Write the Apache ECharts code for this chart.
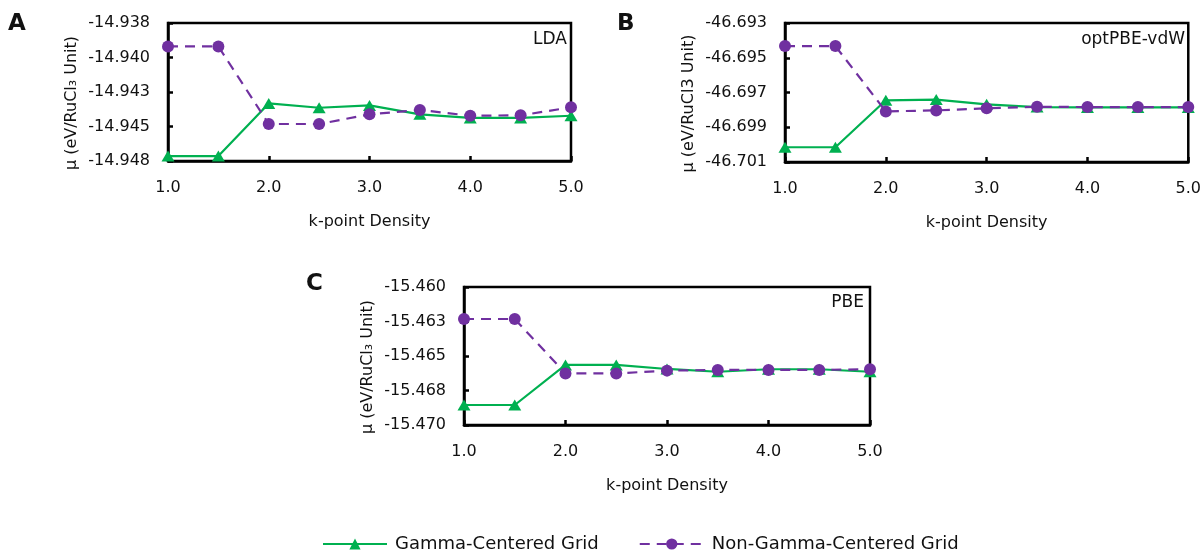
<!DOCTYPE html>
<html>
<head>
<meta charset="utf-8">
<title>Chemical potential vs k-point density</title>
<script src="https://cdn.jsdelivr.net/npm/echarts@6/dist/echarts.min.js"></script>
<style>
  html, body { margin: 0; padding: 0; background: #fff; }
  #chart { width: 1204px; height: 552px; }
</style>
</head>
<body>
<div id="chart"></div>
<script>
// k-point densities sampled in every panel
const kPoints = [1.0, 1.5, 2.0, 2.5, 3.0, 3.5, 4.0, 4.5, 5.0];
const xTickLabels = ['1.0', '2.0', '3.0', '4.0', '5.0'];

// Panel A: LDA
const ldaGamma    = [-14.94764, -14.94764, -14.94383, -14.94414, -14.94397, -14.94462, -14.94488, -14.94488, -14.94472];
const ldaNonGamma = [-14.93970, -14.93970, -14.94532, -14.94532, -14.94462, -14.94430, -14.94472, -14.94469, -14.94411];
const ldaTicks    = ['-14.948', '-14.945', '-14.943', '-14.940', '-14.938'];

// Panel B: optPBE-vdW
const vdwGamma    = [-46.70015, -46.70015, -46.69745, -46.69741, -46.69768, -46.69784, -46.69786, -46.69786, -46.69786];
const vdwNonGamma = [-46.69433, -46.69433, -46.69809, -46.69803, -46.69791, -46.69782, -46.69784, -46.69784, -46.69784];
const vdwTicks    = ['-46.701', '-46.699', '-46.697', '-46.695', '-46.693'];

// Panel C: PBE
const pbeGamma    = [-15.46855, -15.46855, -15.46565, -15.46565, -15.46594, -15.46614, -15.46596, -15.46596, -15.46614];
const pbeNonGamma = [-15.46232, -15.46232, -15.46626, -15.46626, -15.46606, -15.46601, -15.46601, -15.46601, -15.46596];
const pbeTicks    = ['-15.470', '-15.468', '-15.465', '-15.463', '-15.460'];

const seriesNames = ['Gamma-Centered Grid', 'Non-Gamma-Centered Grid'];
const GREEN = '#00B050';
const PURPLE = '#7030A0';
const FONT = "'DejaVu Sans', 'Noto Sans', sans-serif";
const INK = '#111';

const panels = [
  { grid: { left: 168, top: 23, width: 403, height: 138 }, min: -14.948, max: -14.938, step: 0.0025,
    ticks: ldaTicks, gamma: ldaGamma, nonGamma: ldaNonGamma, yName: 'μ (eV/RuCl₃ Unit)' },
  { grid: { left: 785, top: 23, width: 407, height: 139 }, min: -46.701, max: -46.693, step: 0.002,
    ticks: vdwTicks, gamma: vdwGamma, nonGamma: vdwNonGamma, yName: 'μ (eV/RuCl3 Unit)' },
  { grid: { left: 464, top: 287, width: 406, height: 138 }, min: -15.470, max: -15.460, step: 0.0025,
    ticks: pbeTicks, gamma: pbeGamma, nonGamma: pbeNonGamma, yName: 'μ (eV/RuCl₃ Unit)' }
];

const axisLine = { show: true, lineStyle: { color: '#000', width: 2.5 } };
const axisTick = { show: true, inside: true, length: 5, lineStyle: { color: '#000', width: 2.5 } };

const grids = [], xAxes = [], yAxes = [], series = [];
panels.forEach((p, i) => {
  grids.push(Object.assign({ show: true, borderColor: '#000', borderWidth: 2.5, containLabel: false }, p.grid));
  xAxes.push({
    type: 'value', gridIndex: i, min: 1, max: 5, interval: 1,
    name: 'k-point Density', nameLocation: 'middle', nameGap: 53,
    nameTextStyle: { fontFamily: FONT, fontSize: 16, color: INK },
    axisLine, axisTick, splitLine: { show: false },
    axisLabel: { margin: 19, fontFamily: FONT, fontSize: 16, color: INK,
      formatter: v => xTickLabels[Math.round(v) - 1] }
  });
  yAxes.push({
    type: 'value', gridIndex: i, min: p.min, max: p.max, interval: p.step,
    name: p.yName, nameLocation: 'middle', nameGap: 88,
    nameTextStyle: { fontFamily: FONT, fontSize: 16, color: INK, padding: [0, 22, 0, 0] },
    axisLine, axisTick, splitLine: { show: false },
    axisLabel: { margin: 18, fontFamily: FONT, fontSize: 16, color: INK,
      formatter: v => p.ticks[Math.round((v - p.min) / p.step)] }
  });
  series.push({
    name: seriesNames[0], type: 'line', xAxisIndex: i, yAxisIndex: i,
    data: kPoints.map((k, j) => [k, p.gamma[j]]),
    symbol: 'triangle', symbolSize: [13, 11], showAllSymbol: true,
    lineStyle: { color: GREEN, width: 2.2 }, itemStyle: { color: GREEN },
    z: 2, animation: false
  });
  series.push({
    name: seriesNames[1], type: 'line', xAxisIndex: i, yAxisIndex: i,
    data: kPoints.map((k, j) => [k, p.nonGamma[j]]),
    symbol: 'circle', symbolSize: 12, showAllSymbol: true,
    lineStyle: { color: PURPLE, width: 2.2, type: [10, 7] }, itemStyle: { color: PURPLE },
    z: 3, animation: false
  });
});

const label = (text, x, y, opts) => ({
  type: 'text', x, y,
  style: Object.assign({ text, fill: INK, fontFamily: FONT, fontSize: 17,
    textVerticalAlign: 'middle' }, opts || {})
});

const option = {
  backgroundColor: '#fff',
  animation: false,
  grid: grids,
  xAxis: xAxes,
  yAxis: yAxes,
  series,
  legend: {
    data: seriesNames,
    left: 317, top: 530,
    itemWidth: 64, itemHeight: 14, itemGap: 40,
    textStyle: { fontFamily: FONT, fontSize: 18, color: INK, padding: [0, 0, 0, 3] }
  },
  graphic: [
    label('A', 8, 24, { fontSize: 23, fontWeight: 'bold' }),
    label('B', 617, 24, { fontSize: 23, fontWeight: 'bold' }),
    label('C', 306, 284, { fontSize: 23, fontWeight: 'bold' }),
    label('LDA', 567, 40, { textAlign: 'right' }),
    label('optPBE-vdW', 1185, 40, { textAlign: 'right' }),
    label('PBE', 864, 303, { textAlign: 'right' })
  ]
};

const chart = echarts.init(document.getElementById('chart'), null, { renderer: 'canvas' });
chart.setOption(option);
</script>
</body>
</html>
